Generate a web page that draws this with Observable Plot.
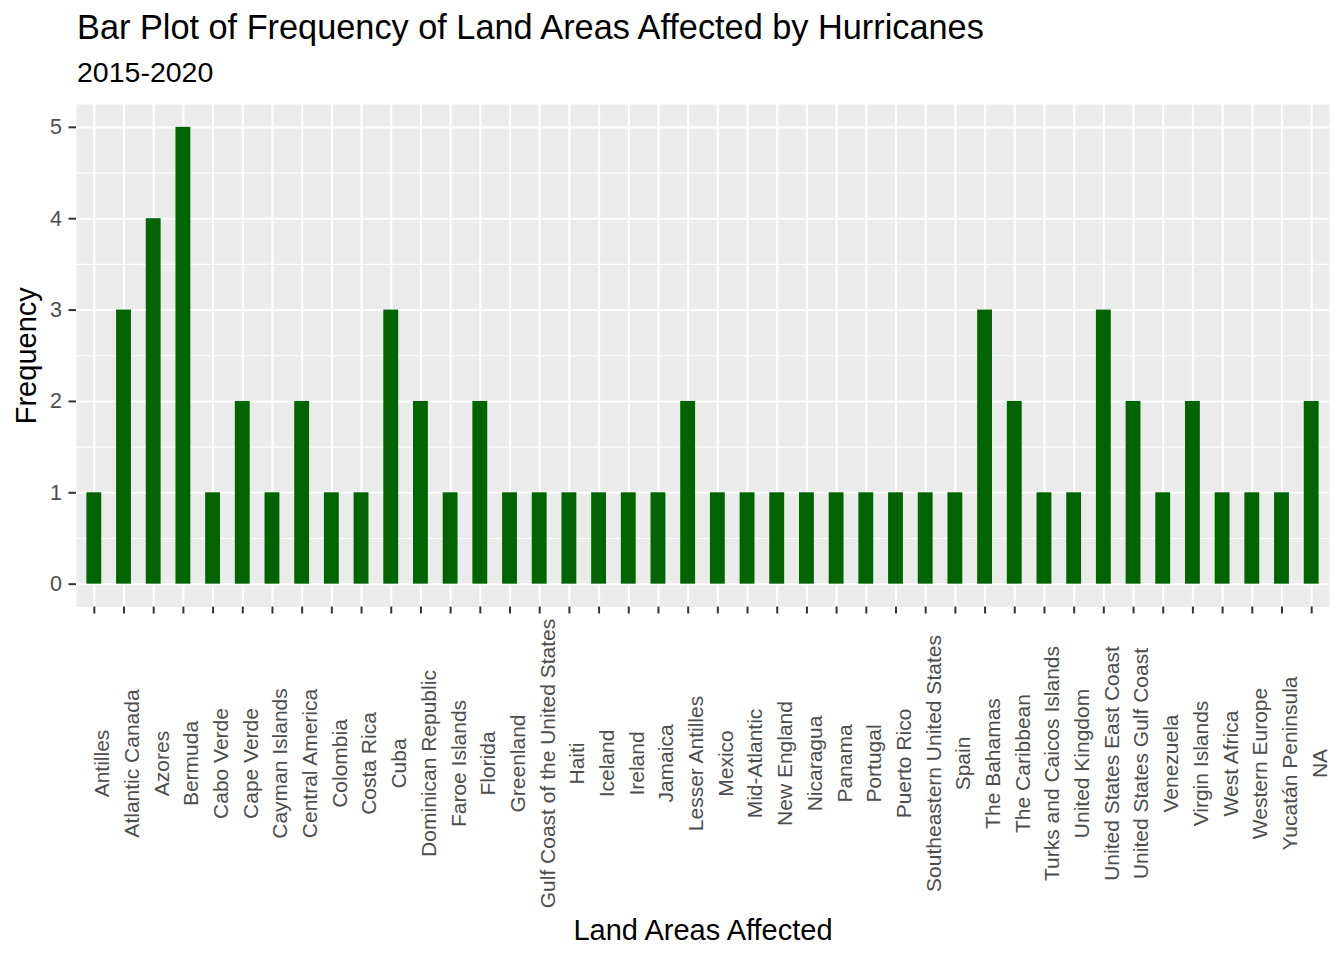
<!DOCTYPE html>
<html><head><meta charset="utf-8">
<script src="https://cdn.jsdelivr.net/npm/d3@7"></script>
<script src="https://cdn.jsdelivr.net/npm/@observablehq/plot@0.6"></script>
<style>
body{margin:0;background:#fff;font-family:"Liberation Sans",Arial,sans-serif;}
#header{position:relative;height:95px;width:1344px;}
#title{position:absolute;left:77px;top:10px;font-size:34.3px;line-height:34px;color:#000;white-space:nowrap;}
#subtitle{position:absolute;left:77px;top:58px;font-size:28.5px;line-height:28.5px;color:#000;white-space:nowrap;}
#chart svg{display:block}
</style></head><body>
<div id="header"><div id="title">Bar Plot of Frequency of Land Areas Affected by Hurricanes</div><div id="subtitle">2015-2020</div></div>
<div id="chart"></div>
<script>
const areas = ["Antilles","Atlantic Canada","Azores","Bermuda","Cabo Verde","Cape Verde","Cayman Islands","Central America","Colombia","Costa Rica","Cuba","Dominican Republic","Faroe Islands","Florida","Greenland","Gulf Coast of the United States","Haiti","Iceland","Ireland","Jamaica","Lesser Antilles","Mexico","Mid-Atlantic","New England","Nicaragua","Panama","Portugal","Puerto Rico","Southeastern United States","Spain","The Bahamas","The Caribbean","Turks and Caicos Islands","United Kingdom","United States East Coast","United States Gulf Coast","Venezuela","Virgin Islands","West Africa","Western Europe","Yucatán Peninsula","NA"];
const counts = [1,3,4,5,1,2,1,2,1,1,3,2,1,2,1,1,1,1,1,1,2,1,1,1,1,1,1,1,1,1,3,2,1,1,3,2,1,2,1,1,1,2];
const yTicks = [0,1,2,3,4,5];
const yMinor = [0.5,1.5,2.5,3.5,4.5];
const xLabel = "Land Areas Affected";
const yLabel = "Frequency";

const data = areas.map((a, i) => ({area: a, count: counts[i]}));

const chart = Plot.plot({
  width: 1344,
  height: 865,
  marginTop: 9,
  marginBottom: 353.5,
  marginLeft: 76,
  marginRight: 15,
  style: {fontFamily: "'Liberation Sans', Arial, sans-serif", fontSize: "21px", background: "white", overflow: "visible"},
  x: {type: "band", domain: areas, paddingInner: 0.5, paddingOuter: 0.35, round: false, axis: null},
  y: {domain: [-0.25, 5.25], axis: null},
  marks: [
    Plot.frame({fill: "#EBEBEB", stroke: null}),
    Plot.ruleY(yMinor, {stroke: "white", strokeWidth: 1.1}),
    Plot.ruleY(yTicks, {stroke: "white", strokeWidth: 2.1}),
    Plot.ruleX(areas, {x: d => d, stroke: "white", strokeWidth: 2.1}),
    Plot.barY(data, {x: "area", y: "count", fill: "#006400"}),
    Plot.axisY(yTicks, {tickSize: 7.5, stroke: "#333333", strokeWidth: 2, tickFormat: () => "", label: null}),
    Plot.axisY(yTicks, {tickSize: 0, tickPadding: 14.5, fill: "#4D4D4D", color: "#4D4D4D", fontSize: 21.5, tickFormat: d => String(d), label: null}),
    Plot.axisX(areas, {tickSize: 7, stroke: "#333333", strokeWidth: 2, tickFormat: () => "", label: null}),
    Plot.text(areas, {x: d => d, text: d => d, frameAnchor: "bottom", dy: 156.5, rotate: -90, textAnchor: "middle", lineAnchor: "top", fill: "#4D4D4D", fontSize: 21}),
    Plot.text([xLabel], {text: d => d, frameAnchor: "bottom", dy: 332.5, textAnchor: "middle", lineAnchor: "bottom", fill: "black", fontSize: 29}),
    Plot.text([yLabel], {text: d => d, frameAnchor: "left", dx: -41, rotate: -90, textAnchor: "middle", lineAnchor: "bottom", fill: "black", fontSize: 29})
  ]
});
document.getElementById("chart").appendChild(chart);
</script>
</body></html>
